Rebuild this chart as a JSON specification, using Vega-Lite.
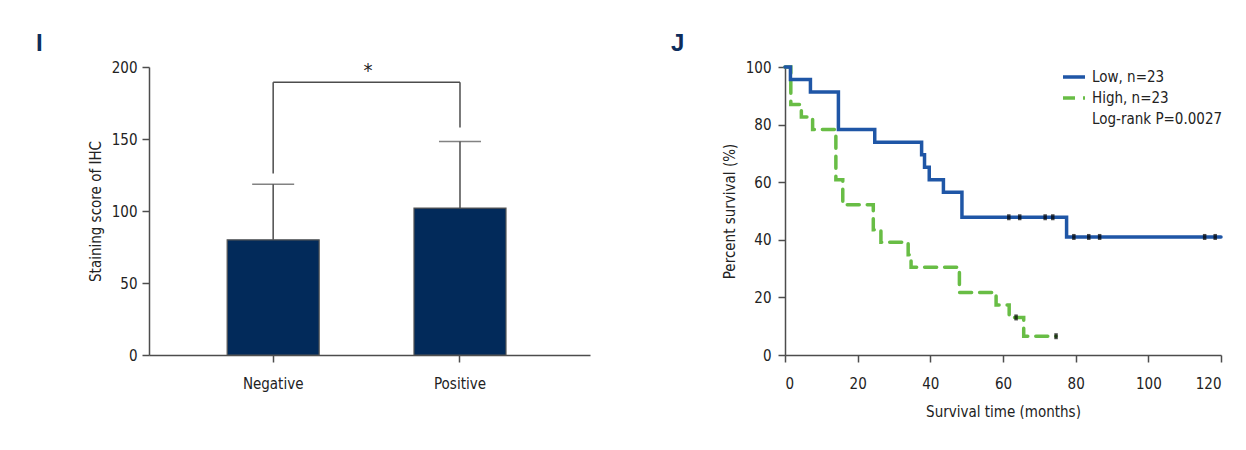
{
  "$schema": "https://vega.github.io/schema/vega-lite/v6.json",
  "background": "white",
  "autosize": {"type": "pad"},
  "padding": {"left": 36, "top": 32, "right": 0, "bottom": 0},
  "config": {
    "font": "DejaVu Sans Condensed, Roboto, sans-serif",
    "view": {"stroke": null},
    "axis": {
      "domainColor": "#4d4d4d", "tickColor": "#4d4d4d", "domainWidth": 1.5, "tickWidth": 1.5,
      "labelColor": "#222222", "titleColor": "#222222", "labelFontSize": 15, "titleFontSize": 15,
      "titleFontWeight": "normal", "grid": false, "tickSize": 7,
      "labelFont": "DejaVu Sans Condensed, Roboto, sans-serif", "titleFont": "DejaVu Sans Condensed, Roboto, sans-serif"
    },
    "title": {"font": "Liberation Sans", "fontWeight": "bold", "fontSize": 24, "color": "#0d2d5c", "anchor": "start", "frame": "group", "offset": 3, "dy": -1}
  },
  "spacing": 81,
  "hconcat": [
    {
      "width": 441,
      "height": 288,
      "title": {"text": "I", "dx": -113},
      "layer": [
        {
          "data": {"values": [
            {"group": "Negative", "mean": 80, "upper": 118.5},
            {"group": "Positive", "mean": 102, "upper": 148.2}
          ]},
          "layer": [
            {
              "mark": {"type": "bar", "color": "#022a5a", "stroke": "#555555", "strokeWidth": 1.2},
              "encoding": {
                "x": {"field": "group", "type": "nominal", "sort": null,
                  "scale": {"paddingInner": 0.5075, "paddingOuter": 0.434, "align": 0.482},
                  "axis": {"title": null, "labelAngle": 0, "labelPadding": 14}},
                "y": {"field": "mean", "type": "quantitative", "scale": {"domain": [0, 200]},
                  "axis": {"values": [0, 50, 100, 150, 200], "title": "Staining score of IHC", "labelPadding": 5, "titlePadding": 8}}
              }
            },
            {
              "mark": {"type": "rule", "color": "#4d4d4d", "strokeWidth": 1.5},
              "encoding": {
                "x": {"field": "group", "type": "nominal"},
                "y": {"field": "mean", "type": "quantitative"},
                "y2": {"field": "upper"}
              }
            },
            {
              "mark": {"type": "tick", "color": "#4d4d4d", "thickness": 1.5, "size": 42, "orient": "horizontal"},
              "encoding": {
                "x": {"field": "group", "type": "nominal"},
                "y": {"field": "upper", "type": "quantitative"}
              }
            }
          ]
        },
        {
          "data": {"values": [
            {"from": "Negative", "to": "Positive", "y": 189.4, "leftEnd": 126, "rightEnd": 158, "label": "*", "labelY": 197}
          ]},
          "layer": [
            {
              "mark": {"type": "rule", "color": "#4d4d4d", "strokeWidth": 1.5},
              "encoding": {
                "x": {"field": "from", "type": "nominal"},
                "x2": {"field": "to"},
                "y": {"field": "y", "type": "quantitative"}
              }
            },
            {
              "mark": {"type": "rule", "color": "#4d4d4d", "strokeWidth": 1.5},
              "encoding": {
                "x": {"field": "from", "type": "nominal"},
                "y": {"field": "leftEnd", "type": "quantitative"},
                "y2": {"field": "y"}
              }
            },
            {
              "mark": {"type": "rule", "color": "#4d4d4d", "strokeWidth": 1.5},
              "encoding": {
                "x": {"field": "to", "type": "nominal"},
                "y": {"field": "rightEnd", "type": "quantitative"},
                "y2": {"field": "y"}
              }
            },
            {
              "mark": {"type": "text", "fontSize": 20, "color": "#222222", "baseline": "middle", "align": "center"},
              "encoding": {
                "x": {"field": "from", "type": "nominal", "bandPosition": 1.53},
                "y": {"field": "labelY", "type": "quantitative"},
                "text": {"field": "label"}
              }
            }
          ]
        }
      ]
    },
    {
      "width": 436,
      "height": 288,
      "title": {"text": "J", "dx": -114},
      "layer": [
        {
          "data": {"values": [
            {"group": "High, n=23", "time": 0, "survival": 100},
            {"group": "High, n=23", "time": 1.6, "survival": 86.96},
            {"group": "High, n=23", "time": 4.5, "survival": 82.61},
            {"group": "High, n=23", "time": 7.6, "survival": 78.26},
            {"group": "High, n=23", "time": 14, "survival": 60.87},
            {"group": "High, n=23", "time": 15.9, "survival": 52.17},
            {"group": "High, n=23", "time": 24.3, "survival": 43.48},
            {"group": "High, n=23", "time": 26.4, "survival": 39.13},
            {"group": "High, n=23", "time": 33.9, "survival": 34.78},
            {"group": "High, n=23", "time": 34.7, "survival": 30.43},
            {"group": "High, n=23", "time": 48, "survival": 21.74},
            {"group": "High, n=23", "time": 58.1, "survival": 17.39},
            {"group": "High, n=23", "time": 61.7, "survival": 13.04},
            {"group": "High, n=23", "time": 65.7, "survival": 6.52},
            {"group": "High, n=23", "time": 74.6, "survival": 6.52},
            {"group": "Low, n=23", "time": 0, "survival": 100},
            {"group": "Low, n=23", "time": 1.5, "survival": 95.65},
            {"group": "Low, n=23", "time": 7, "survival": 91.3},
            {"group": "Low, n=23", "time": 14.7, "survival": 78.26},
            {"group": "Low, n=23", "time": 24.7, "survival": 73.91},
            {"group": "Low, n=23", "time": 37.6, "survival": 69.57},
            {"group": "Low, n=23", "time": 38.4, "survival": 65.22},
            {"group": "Low, n=23", "time": 39.7, "survival": 60.87},
            {"group": "Low, n=23", "time": 43.6, "survival": 56.52},
            {"group": "Low, n=23", "time": 48.7, "survival": 47.83},
            {"group": "Low, n=23", "time": 77.5, "survival": 40.99},
            {"group": "Low, n=23", "time": 120, "survival": 40.99}
          ]},
          "mark": {"type": "line", "interpolate": "step-after", "strokeWidth": 3.5, "strokeCap": "round"},
          "encoding": {
            "x": {"field": "time", "type": "quantitative", "scale": {"domain": [0, 120], "nice": false},
              "axis": {"values": [0, 20, 40, 60, 80, 100, 120], "title": "Survival time (months)", "labelPadding": 14, "titlePadding": 13}},
            "y": {"field": "survival", "type": "quantitative", "scale": {"domain": [0, 100], "nice": false},
              "axis": {"values": [0, 20, 40, 60, 80, 100], "title": "Percent survival (%)", "labelPadding": 7, "titlePadding": 8}},
            "color": {"field": "group", "type": "nominal",
              "scale": {"domain": ["Low, n=23", "High, n=23", "Log-rank P=0.0027"], "range": ["#1f56a6", "#68bd45", "rgba(0,0,0,0)"]},
              "legend": {"title": null, "orient": "none", "legendX": 912, "legendY": -3, "symbolType": "stroke", "symbolSize": 484, "symbolStrokeWidth": 3.5, "labelFontSize": 15, "labelColor": "#222222", "rowPadding": 0, "labelOffset": 5, "padding": 0}},
            "strokeDash": {"field": "group", "type": "nominal",
              "scale": {"domain": ["Low, n=23", "High, n=23", "Log-rank P=0.0027"], "range": [[1, 0], [12, 8], [1, 0]]},
              "legend": {"title": null, "orient": "none", "legendX": 912, "legendY": -3, "symbolType": "stroke", "symbolSize": 484, "symbolStrokeWidth": 3.5, "labelFontSize": 15, "labelColor": "#222222", "rowPadding": 0, "labelOffset": 5, "padding": 0}}
          }
        },
        {
          "data": {"values": [
            {"time": 61.6, "survival": 47.83},
            {"time": 64.6, "survival": 47.83},
            {"time": 71.6, "survival": 47.83},
            {"time": 73.7, "survival": 47.83},
            {"time": 79.5, "survival": 40.99},
            {"time": 83.6, "survival": 40.99},
            {"time": 86.6, "survival": 40.99},
            {"time": 115.5, "survival": 40.99},
            {"time": 118.4, "survival": 40.99},
            {"time": 63.6, "survival": 13.04},
            {"time": 74.6, "survival": 6.52}
          ]},
          "mark": {"type": "tick", "color": "black", "thickness": 3.5, "size": 6, "orient": "vertical"},
          "encoding": {
            "x": {"field": "time", "type": "quantitative"},
            "y": {"field": "survival", "type": "quantitative"}
          }
        }
      ]
    }
  ]
}
